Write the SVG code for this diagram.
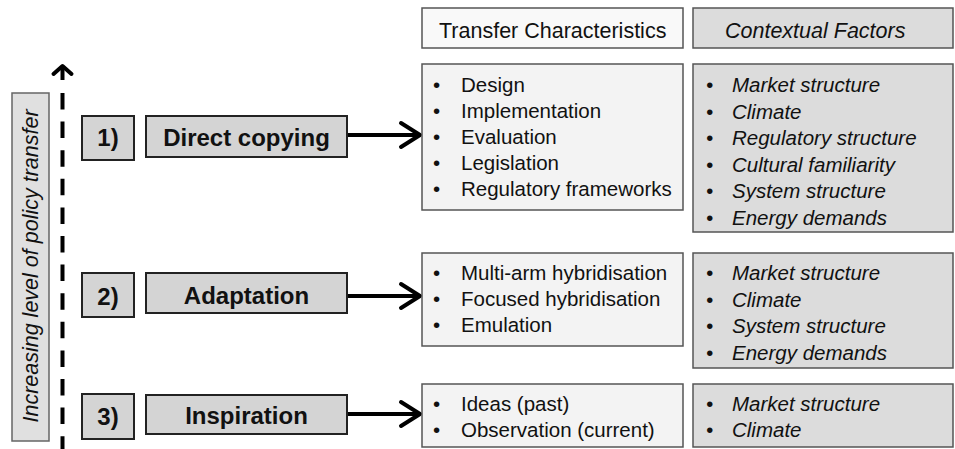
<svg xmlns="http://www.w3.org/2000/svg" width="955" height="449" viewBox="0 0 955 449">
<style>
text{font-family:"Liberation Sans",Arial,sans-serif;fill:#111}
.lb{fill:#d4d4d4;stroke:#222;stroke-width:2}
.tc{fill:#f3f3f3;stroke:#555;stroke-width:1.5}
.cf{fill:#dcdcdc;stroke:#555;stroke-width:1.5}
.bold{font-weight:bold;font-size:24px;text-anchor:middle}
.it{font-size:20.5px}
.ci{font-size:20.5px;font-style:italic}
.hd{font-size:21.5px}
.conn{stroke:#000;stroke-width:4;fill:none}
.head{stroke:#000;stroke-width:4;fill:none;stroke-linecap:round;stroke-linejoin:round}
</style>
<rect width="955" height="449" fill="#fff"/>

<g id="axis-label">
<rect x="12" y="93" width="37" height="348" fill="#e0e0e0" stroke="#666" stroke-width="1.5"/>
<text class="hd" font-style="italic" text-anchor="middle" transform="translate(37.5,266) rotate(-90)">Increasing level of policy transfer</text>
</g>

<g id="connectors">
<line class="conn" x1="62.5" y1="93" x2="62.5" y2="449" stroke-width="3.5" stroke-dasharray="16.5 12.1"/>
<line class="conn" x1="62.5" y1="67" x2="62.5" y2="80" stroke-width="3.5"/>
<polyline class="head" points="53.5,74 62.5,66 71.5,74" stroke-width="3.5"/>
<line class="conn" x1="347" y1="135" x2="419" y2="135"/>
<polyline class="head" points="401,123 420,135 401,147"/>
<line class="conn" x1="347" y1="296" x2="419" y2="296"/>
<polyline class="head" points="401,284 420,296 401,308"/>
<line class="conn" x1="347" y1="414" x2="419" y2="414"/>
<polyline class="head" points="401,402 420,414 401,426"/>
</g>

<g id="n1">
<rect class="lb" x="82" y="116" width="52" height="44"/>
<text class="bold" x="108" y="146">1)</text>
</g>
<g id="direct-copying">
<rect class="lb" x="146" y="116" width="201" height="41"/>
<text class="bold" x="246.5" y="146">Direct copying</text>
</g>
<g id="n2">
<rect class="lb" x="82" y="273" width="52" height="44"/>
<text class="bold" x="108" y="305">2)</text>
</g>
<g id="adaptation">
<rect class="lb" x="146" y="273" width="201" height="40"/>
<text class="bold" x="246.5" y="304">Adaptation</text>
</g>
<g id="n3">
<rect class="lb" x="82" y="394" width="52" height="45"/>
<text class="bold" x="108" y="425">3)</text>
</g>
<g id="inspiration">
<rect class="lb" x="146" y="395" width="201" height="39"/>
<text class="bold" x="246.5" y="424">Inspiration</text>
</g>

<g id="tc-header">
<rect x="422" y="8" width="261" height="40" fill="#f9f9f9" stroke="#555" stroke-width="1.5"/>
<text class="hd" x="439" y="38">Transfer Characteristics</text>
</g>
<g id="cf-header">
<rect class="cf" x="693" y="8" width="260" height="40"/>
<text class="hd" font-style="italic" x="725" y="38">Contextual Factors</text>
</g>

<g id="tc1">
<rect class="tc" x="422" y="64" width="261" height="146"/>
<text class="it"><tspan x="433" y="92">•</tspan><tspan x="461" y="92">Design</tspan><tspan x="433" y="118">•</tspan><tspan x="461" y="118">Implementation</tspan><tspan x="433" y="144">•</tspan><tspan x="461" y="144">Evaluation</tspan><tspan x="433" y="170">•</tspan><tspan x="461" y="170">Legislation</tspan><tspan x="433" y="196">•</tspan><tspan x="461" y="196">Regulatory frameworks</tspan></text>
</g>
<g id="cf1">
<rect class="cf" x="693" y="64" width="260" height="168"/>
<text class="ci"><tspan x="706" y="92">•</tspan><tspan x="732" y="92">Market structure</tspan><tspan x="706" y="118.5">•</tspan><tspan x="732" y="118.5">Climate</tspan><tspan x="706" y="145">•</tspan><tspan x="732" y="145">Regulatory structure</tspan><tspan x="706" y="171.5">•</tspan><tspan x="732" y="171.5">Cultural familiarity</tspan><tspan x="706" y="198">•</tspan><tspan x="732" y="198">System structure</tspan><tspan x="706" y="224.5">•</tspan><tspan x="732" y="224.5">Energy demands</tspan></text>
</g>

<g id="tc2">
<rect class="tc" x="422" y="253" width="261" height="93"/>
<text class="it"><tspan x="433" y="280">•</tspan><tspan x="461" y="280">Multi-arm hybridisation</tspan><tspan x="433" y="306">•</tspan><tspan x="461" y="306">Focused hybridisation</tspan><tspan x="433" y="332">•</tspan><tspan x="461" y="332">Emulation</tspan></text>
</g>
<g id="cf2">
<rect class="cf" x="693" y="253" width="260" height="115"/>
<text class="ci"><tspan x="706" y="280">•</tspan><tspan x="732" y="280">Market structure</tspan><tspan x="706" y="306.5">•</tspan><tspan x="732" y="306.5">Climate</tspan><tspan x="706" y="333">•</tspan><tspan x="732" y="333">System structure</tspan><tspan x="706" y="359.5">•</tspan><tspan x="732" y="359.5">Energy demands</tspan></text>
</g>

<g id="tc3">
<rect class="tc" x="422" y="384" width="261" height="63"/>
<text class="it"><tspan x="433" y="411">•</tspan><tspan x="461" y="411">Ideas (past)</tspan><tspan x="433" y="437">•</tspan><tspan x="461" y="437">Observation (current)</tspan></text>
</g>
<g id="cf3">
<rect class="cf" x="693" y="384" width="260" height="63"/>
<text class="ci"><tspan x="706" y="411">•</tspan><tspan x="732" y="411">Market structure</tspan><tspan x="706" y="437">•</tspan><tspan x="732" y="437">Climate</tspan></text>
</g>
</svg>
